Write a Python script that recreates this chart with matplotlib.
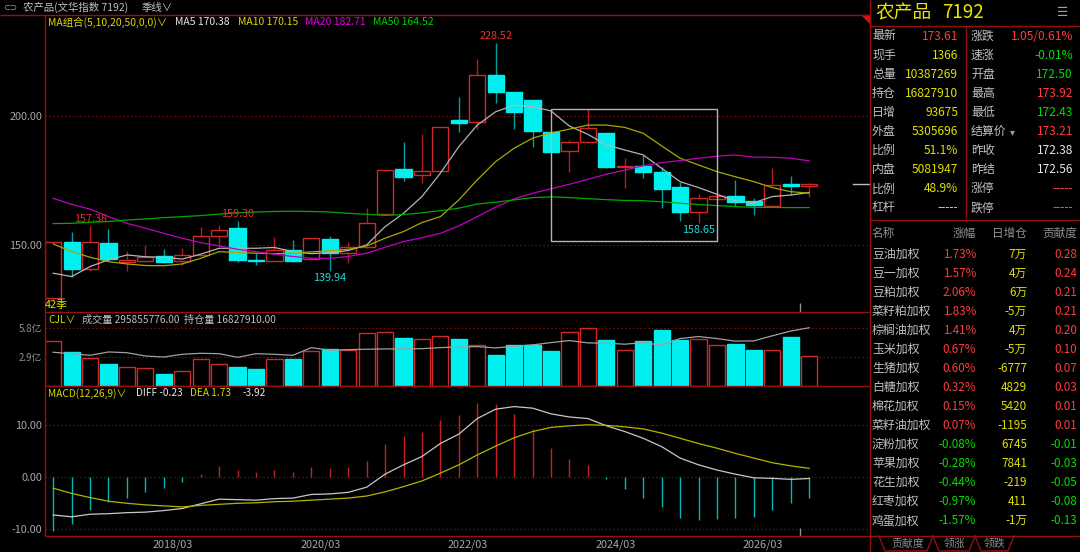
import numpy as np
import matplotlib
matplotlib.use('Agg')
import matplotlib.pyplot as plt
from matplotlib.patches import Rectangle, Polygon

plt.rcParams['font.family'] = ['Noto Sans CJK SC', 'DejaVu Sans']

# quarterly candles (季线), 42 periods
opens = [129.3, 151.0, 140.8, 150.8, 143.3, 143.9, 145.6, 143.7, 146.0, 153.5,
         156.7, 144.2, 143.9, 147.9, 144.4, 152.2, 146.8, 149.1, 161.9, 179.4,
         177.1, 178.6, 198.5, 197.7, 216.0, 209.3, 206.2, 193.8, 186.5, 189.9,
         193.5, 180.2, 180.7, 178.4, 172.5, 162.9, 167.8, 169.0, 167.0, 165.0,
         173.6, 172.8]
highs = [151.2, 154.9, 157.38, 156.2, 147.8, 150.0, 148.4, 148.7, 156.9, 157.6,
         159.30, 147.0, 153.0, 151.9, 152.7, 153.5, 151.3, 164.4, 179.3, 190.0,
         193.1, 195.9, 207.6, 222.3, 228.52, 209.5, 206.5, 194.1, 190.8, 202.7,
         193.7, 183.9, 184.9, 180.2, 174.6, 169.8, 169.2, 175.3, 168.1, 179.8,
         176.9, 174.2]
lows = [129.0, 137.7, 140.0, 143.9, 139.9, 143.7, 143.1, 142.0, 145.8, 149.4,
        143.5, 142.0, 143.6, 143.4, 144.2, 139.94, 143.1, 148.8, 161.6, 175.0,
        174.0, 178.4, 194.0, 195.0, 205.1, 195.0, 188.1, 186.1, 178.5, 189.7,
        179.8, 172.3, 175.9, 164.5, 159.3, 158.65, 167.6, 165.3, 161.7, 164.8,
        169.4, 168.5]
closes = [151.0, 140.6, 151.0, 144.4, 144.2, 145.2, 143.4, 146.2, 153.5, 155.7,
          144.0, 143.7, 147.9, 143.7, 152.5, 146.8, 149.1, 158.4, 179.1, 176.5,
          178.9, 195.7, 197.3, 216.2, 209.6, 201.8, 194.4, 186.3, 189.9, 195.4,
          180.4, 180.8, 178.3, 171.6, 162.7, 168.1, 169.0, 166.7, 165.4, 173.2,
          172.9, 173.61]

ma5 = [139.0, 137.7, 141.6, 144.2, 146.1, 145.4, 145.2, 144.5, 146.4, 148.7,
       148.7, 148.7, 149.0, 147.4, 146.6, 147.0, 147.8, 150.0, 157.1, 162.3,
       168.8, 177.9, 188.2, 196.6, 201.8, 204.3, 203.8, 202.1, 196.2, 193.0,
       188.9, 186.9, 185.0, 179.8, 174.6, 172.3, 169.7, 167.1, 166.4, 168.8,
       169.4, 170.38]
ma10 = [150.4, 147.4, 145.2, 143.5, 142.6, 142.0, 141.9, 142.6, 144.8, 147.4,
        147.0, 146.8, 146.6, 146.8, 147.3, 147.7, 148.3, 149.6, 152.6, 155.2,
        158.7, 161.0, 167.5, 175.3, 182.4, 187.6, 191.5, 193.6, 195.0, 196.6,
        196.6, 195.7, 193.4, 188.5, 183.7, 181.1, 178.5, 176.5, 174.6, 172.3,
        170.7, 170.15]
ma20 = [168.1, 165.8, 163.9, 161.0, 158.4, 156.5, 154.5, 152.6, 150.9, 149.6,
        148.3, 147.4, 146.4, 145.5, 144.8, 144.8, 145.5, 146.8, 149.1, 151.3,
        152.8, 154.5, 157.4, 161.0, 164.7, 167.9, 170.1, 171.8, 173.6, 175.5,
        177.5, 179.1, 180.8, 182.0, 182.8, 183.7, 184.5, 185.0, 184.1, 184.1,
        183.7, 182.71]
ma50 = [158.3, 158.4, 158.8, 159.1, 159.7, 160.1, 160.6, 161.0, 161.4, 162.0,
        162.5, 162.8, 163.0, 163.1, 163.0, 162.8, 162.3, 161.9, 161.5, 161.8,
        162.5, 163.3, 164.3, 165.9, 166.6, 167.5, 168.4, 168.7, 168.4, 168.0,
        167.6, 167.3, 167.2, 166.8, 166.2, 165.7, 165.3, 164.9, 164.6, 164.6,
        164.5, 164.52]

# volume in 亿
volume = [4.47, 3.37, 2.83, 2.17, 1.90, 1.77, 1.17, 1.47, 2.67, 2.17,
          1.87, 1.67, 2.70, 2.67, 3.47, 3.73, 3.60, 5.27, 5.37, 4.80,
          4.73, 5.00, 4.67, 4.07, 3.07, 4.07, 4.13, 3.47, 5.40, 5.80,
          4.57, 3.63, 4.47, 5.53, 4.63, 4.67, 4.07, 4.17, 3.57, 3.57,
          4.87, 2.97]
vol_ma = [3.37, 3.23, 3.07, 3.40, 3.33, 3.00, 2.90, 3.17, 3.27, 3.23,
          2.87, 3.23, 3.17, 3.07, 3.83, 3.57, 3.63, 3.67, 3.70, 3.70,
          3.73, 3.83, 3.90, 3.93, 3.80, 3.97, 4.10, 4.33, 4.53, 4.30,
          4.27, 4.17, 4.33, 4.07, 4.73, 4.93, 4.73, 4.47, 4.50, 5.00,
          5.47, 5.80]

macd_hist = [-10.4, -9.0, -6.3, -4.8, -4.0, -2.8, -2.0, -1.0, 0.7, 2.2,
             1.4, 1.0, 1.4, 1.0, 1.9, 1.8, 2.0, 3.1, 6.4, 7.9,
             8.7, 11.1, 12.0, 14.3, 14.1, 12.2, 9.3, 5.6, 3.5, 2.4,
             -0.4, -2.3, -3.9, -5.7, -7.8, -8.3, -8.0, -7.9, -7.6, -6.2,
             -4.9, -3.92]
diff = [-7.25, -7.6, -7.1, -7.0, -6.8, -6.7, -6.4, -6.0, -5.1, -4.2,
        -4.3, -4.4, -4.1, -4.0, -3.3, -3.2, -2.9, -1.9, 0.6, 2.4,
        4.0, 6.5, 8.3, 11.3, 13.1, 13.6, 13.3, 12.2, 11.6, 11.3,
        9.9, 8.8, 7.5, 5.9, 3.7, 2.4, 1.4, 0.6, -0.1, -0.2,
        -0.4, -0.23]
dea = [-2.1, -3.1, -3.9, -4.6, -5.0, -5.3, -5.5, -5.7, -5.4, -5.2,
       -5.0, -4.9, -4.7, -4.6, -4.4, -4.2, -4.0, -3.6, -2.8, -1.8,
       -0.7, 0.8, 2.4, 4.3, 6.0, 7.6, 8.8, 9.6, 9.9, 10.1,
       10.0, 9.7, 9.3, 8.5, 7.5, 6.5, 5.6, 4.6, 3.7, 2.8,
       2.2, 1.73]

# quarter labels, first candle is 2016/06
quarters = []
y, m = 2016, 6
for _ in range(len(closes)):
    quarters.append(f'{y}/{m:02d}')
    m += 3
    if m > 12:
        m -= 12
        y += 1
xlabels = ['2018/03', '2020/03', '2022/03', '2024/03', '2026/03']

# right panel quote table
quote_left = [('最新', '173.61', 'r'), ('现手', '1366', 'y'), ('总量', '10387269', 'y'),
              ('持仓', '16827910', 'y'), ('日增', '93675', 'y'), ('外盘', '5305696', 'y'),
              ('比例', '51.1%', 'y'), ('内盘', '5081947', 'y'), ('比例', '48.9%', 'y'),
              ('杠杆', '-----', 'y')]
quote_right = [('涨跌', '1.05/0.61%', 'r'), ('速涨', '-0.01%', 'g'), ('开盘', '172.50', 'g'),
               ('最高', '173.92', 'r'), ('最低', '172.43', 'g'), ('结算价', '173.21', 'r'),
               ('昨收', '172.38', 'w'), ('昨结', '172.56', 'w'), ('涨停', '-----', 'r'),
               ('跌停', '-----', 'g')]
names = ['豆油加权', '豆一加权', '豆粕加权', '菜籽粕加权', '棕榈油加权', '玉米加权', '生猪加权',
         '白糖加权', '棉花加权', '菜籽油加权', '淀粉加权', '苹果加权', '花生加权', '红枣加权', '鸡蛋加权']
chg = ['1.73%', '1.57%', '2.06%', '1.83%', '1.41%', '0.67%', '0.60%', '0.32%', '0.15%',
       '0.07%', '-0.08%', '-0.28%', '-0.44%', '-0.97%', '-1.57%']
oi_chg = ['7万', '4万', '6万', '-5万', '4万', '-5万', '-6777', '4829', '5420', '-1195',
          '6745', '7841', '-219', '411', '-1万']
contrib = ['0.28', '0.24', '0.21', '0.21', '0.20', '0.10', '0.07', '0.03', '0.01', '0.01',
           '-0.01', '-0.03', '-0.05', '-0.08', '-0.13']

RED = '#d02828'
RED_W = '#b41e1e'
CYAN = '#00f0f0'
CYAN_W = '#00a0a0'
BORDER = '#961010'
GRID = '#7a0a0a'
TXT_RED = '#ff3c3c'
TXT_GRN = '#00e000'
TXT_YEL = '#e0e000'
TXT_WHT = '#e6e6e6'
TXT_GRY = '#c0c0c0'
TICK = '#a8a8a8'
cmap = {'r': TXT_RED, 'g': TXT_GRN, 'y': TXT_YEL, 'w': TXT_WHT}

W, H = 1080, 552
fig = plt.figure(figsize=(W / 100, H / 100), dpi=100, facecolor='black')


def box(x0, y0, x1, y1):
    a = fig.add_axes([x0 / W, 1 - y1 / H, (x1 - x0) / W, (y1 - y0) / H])
    a.set_facecolor('black')
    for s in a.spines.values():
        s.set_visible(False)
    a.set_xlim(-0.46, 44.3)
    a.tick_params(axis='both', length=0, colors=TICK, labelsize=7.8, pad=2)
    a.set_xticks([])
    return a


L, R = 44.7, 870
ax = box(L, 15, R, 312.3)
axv = box(L, 312.3, R, 386.3)
axm = box(L, 386.3, R, 536)

idx = np.arange(len(closes))
o = np.array(opens); c = np.array(closes)
hi = np.array(highs); lo = np.array(lows)
up = c >= o
dn = ~up

# price panel
ax.set_ylim(123.8, 239.4)
ax.set_yticks([150, 200])
ax.set_yticklabels(['150.00', '200.00'])
ax.grid(axis='y', color=GRID, linestyle=(0, (1.5, 2)), linewidth=0.8)
ax.vlines(idx[up], lo[up], hi[up], color=RED_W, lw=1, zorder=2)
ax.vlines(idx[dn], lo[dn], hi[dn], color=CYAN_W, lw=1, zorder=2)
body_b = np.minimum(o, c)
body_h = np.maximum(np.abs(c - o), 0.35)
ax.bar(idx[up], body_h[up], bottom=body_b[up], width=0.88, facecolor='black',
       edgecolor=RED, linewidth=1, zorder=3)
ax.bar(idx[dn], body_h[dn], bottom=body_b[dn], width=0.88, facecolor=CYAN,
       edgecolor=CYAN, linewidth=1, zorder=3)
ax.plot(idx, ma5, color='#b4b4b4', lw=0.9, zorder=4)
ax.plot(idx, ma10, color='#a8a800', lw=0.9, zorder=4)
ax.plot(idx, ma20, color='#c000c0', lw=0.9, zorder=4)
ax.plot(idx, ma50, color='#00a800', lw=0.9, zorder=4)

# extreme value labels
for i in [2, 10, 24]:
    ax.annotate(f'{highs[i]:.2f}', (i, highs[i]), xytext=(0, 1.5), textcoords='offset points',
                ha='center', va='bottom', color='#e03232', fontsize=7.8, zorder=5)
for i in [15, 35]:
    ax.annotate(f'{lows[i]:.2f}', (i, lows[i]), xytext=(0, -1.5), textcoords='offset points',
                ha='center', va='top', color='#20d8d8', fontsize=7.8, zorder=5)

# drawn box annotation
ax.add_patch(Rectangle((27, 151.7), 9, 51.0, fill=False, edgecolor='#b4b4b4', lw=1, zorder=5))
# last price marker
ax.plot([43.4, 44.3], [closes[-1], closes[-1]], color='#c0c0c0', lw=1, clip_on=False)
ax.vlines(40.5, 123.8, 127.5, color='#909090', lw=1)

# volume panel
axv.set_ylim(0, 7.33)
axv.set_yticks([2.9, 5.8])
axv.set_yticklabels(['2.9亿', '5.8亿'], fontsize=7, color='#8c8c8c')
axv.grid(axis='y', color=GRID, linestyle=(0, (1.5, 2)), linewidth=0.8)
vol = np.array(volume)
axv.bar(idx[up], vol[up], width=0.88, facecolor='black', edgecolor=RED, linewidth=1, zorder=3)
axv.bar(idx[dn], vol[dn], width=0.88, facecolor=CYAN, edgecolor=CYAN, linewidth=1, zorder=3)
axv.plot(idx, vol_ma, color='#a0a0a0', lw=0.9, zorder=4)

# macd panel
axm.set_ylim(-11.29, 17.5)
axm.set_yticks([-10, 0, 10])
axm.set_yticklabels(['-10.00', '0.00', '10.00'])
axm.grid(axis='y', color=GRID, linestyle=(0, (1.5, 2)), linewidth=0.8)
hist = np.array(macd_hist)
pos = hist >= 0
axm.vlines(idx[pos], 0, hist[pos], color='#c82020', lw=1, zorder=3)
axm.vlines(idx[~pos], 0, hist[~pos], color='#00b8b8', lw=1, zorder=3)
axm.plot(idx, diff, color='#c8c8c8', lw=0.9, zorder=4)
axm.plot(idx, dea, color='#b4b400', lw=0.9, zorder=4)
axm.vlines(40.5, -11.29, -9.8, color='#909090', lw=1)
axm.set_xticks([quarters.index(q) - 0.5 for q in xlabels])
axm.set_xticklabels(xlabels)
axm.tick_params(axis='x', length=0, pad=2.5, colors=TICK, labelsize=7.8)

# overlay in pixel coordinates for frame and texts
ov = fig.add_axes([0, 0, 1, 1])
ov.set_xlim(0, W)
ov.set_ylim(H, 0)
ov.axis('off')
ov.patch.set_alpha(0)
ov.set_zorder(10)


def seg(x0, y0, x1, y1, color=BORDER, lw=1.0):
    ov.plot([x0, x1], [y0, y1], color=color, lw=lw, solid_capstyle='butt')


seg(0, 15, R, 15)
seg(L, 15, L, 536)
seg(L, 312.3, R, 312.3)
seg(L, 386.3, R, 386.3)
seg(L, 536, R, 536)
seg(R, 0, R, H)
seg(R, 26, W, 26)
seg(966, 26, 966, 218)
seg(R, 220, W, 220)
seg(R, 536, W, 536)
ov.add_patch(Polygon([(862, 15), (870, 15), (870, 23)], closed=True, color='#e01010'))

# tabs
for xs in [(879, 885, 927, 933), (933, 939, 969, 975), (975, 981, 1008, 1014)]:
    ov.plot([xs[0], xs[1], xs[2], xs[3]], [536, 551, 551, 536], color=BORDER, lw=1)
for tx, t in [(908, '贡献度'), (954, '领涨'), (994, '领跌')]:
    ov.text(tx, 543.5, t, color='#8c8c8c', fontsize=7.8, ha='center', va='center')

# title bar
ov.text(3, 7.5, '⊂⊃', color='#a0a0a0', fontsize=6, ha='left', va='center',
        family=['DejaVu Sans'])
ov.text(23, 7.5, '农产品(文华指数 7192)', color=TXT_GRY, fontsize=7.5, ha='left', va='center')
ov.text(142, 7.5, '季线∨', color=TXT_GRY, fontsize=7.5, ha='left', va='center')

# MA legend
leg = [(48, 'MA组合(5,10,20,50,0,0)∨', '#d8d800'), (175, 'MA5 170.38', TXT_WHT),
       (238, 'MA10 170.15', '#d8d800'), (305, 'MA20 182.71', '#e000e0'),
       (373, 'MA50 164.52', '#00d000')]
for x, t, col in leg:
    ov.text(x, 22, t, color=col, fontsize=7.5, ha='left', va='center')
ov.text(45, 305, '42季', color='#e0e000', fontsize=7.8, ha='left', va='center')

# volume / macd headers
ov.text(48, 320, 'CJL∨', color='#d8d800', fontsize=7.3, ha='left', va='center')
ov.text(82, 320, '成交量 295855776.00  持仓量 16827910.00', color=TXT_GRY, fontsize=7.3,
        ha='left', va='center')
ov.text(48, 393.5, 'MACD(12,26,9)∨', color='#d8d800', fontsize=7.3, ha='left', va='center')
ov.text(136, 393.5, 'DIFF -0.23', color=TXT_WHT, fontsize=7.3, ha='left', va='center')
ov.text(190, 393.5, 'DEA 1.73', color='#d8d800', fontsize=7.3, ha='left', va='center')
ov.text(243, 393.5, '-3.92', color=TXT_WHT, fontsize=7.3, ha='left', va='center')

# right panel header
ov.text(875, 13, '农产品', color='#e6e600', fontsize=13.5, ha='left', va='center')
ov.text(942, 13, '7192', color='#e6e600', fontsize=13.5, ha='left', va='center')
ov.text(1063, 13, '☰', color='#a0a0a0', fontsize=9, ha='center', va='center',
        family=['DejaVu Sans'])

for k, ((l1, v1, c1), (l2, v2, c2)) in enumerate(zip(quote_left, quote_right)):
    yy = 36 + 19.1 * k
    ov.text(872, yy, l1, color=TXT_GRY, fontsize=8.6, ha='left', va='center')
    ov.text(958, yy, v1, color=cmap[c1], fontsize=8.6, ha='right', va='center')
    ov.text(971, yy, l2, color=TXT_GRY, fontsize=8.6, ha='left', va='center')
    ov.text(1073, yy, v2, color=cmap[c2], fontsize=8.6, ha='right', va='center')
    if l2 == '结算价':
        ov.text(1012, yy + 1, '▾', color='#a0a0a0', fontsize=7, ha='center', va='center',
                family=['DejaVu Sans'])

# constituent table
ov.text(872, 233, '名称', color='#909090', fontsize=8.4, ha='left', va='center')
ov.text(976, 233, '涨幅', color='#909090', fontsize=8.4, ha='right', va='center')
ov.text(1027, 233, '日增仓', color='#909090', fontsize=8.4, ha='right', va='center')
ov.text(1077, 233, '贡献度', color='#909090', fontsize=8.4, ha='right', va='center')
for k in range(len(names)):
    yy = 254.7 + 19.0 * k
    col = TXT_RED if not chg[k].startswith('-') else TXT_GRN
    ccol = TXT_RED if not contrib[k].startswith('-') else TXT_GRN
    ov.text(872, yy, names[k], color=TXT_GRY, fontsize=8.6, ha='left', va='center')
    ov.text(976, yy, chg[k], color=col, fontsize=8.4, ha='right', va='center')
    ov.text(1027, yy, oi_chg[k], color=TXT_YEL, fontsize=8.4, ha='right', va='center')
    ov.text(1077, yy, contrib[k], color=ccol, fontsize=8.4, ha='right', va='center')

fig.savefig('out.png', dpi=100, facecolor='black')
